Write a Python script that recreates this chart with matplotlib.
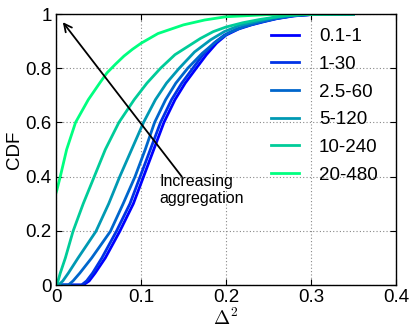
import numpy as np
import matplotlib
matplotlib.use("Agg")
import matplotlib.pyplot as plt

labels = ["0.1-1", "1-30", "2.5-60", "5-120", "10-240", "20-480"]

x_01_1 = [0, 0.032, 0.039, 0.046, 0.058, 0.075, 0.091, 0.103, 0.115, 0.127, 0.14, 0.152, 0.165, 0.177, 0.189, 0.2, 0.215, 0.23, 0.245, 0.26, 0.28, 0.3, 0.35]
y_01_1 = [0, 0, 0.015, 0.044, 0.10, 0.198, 0.30, 0.40, 0.50, 0.60, 0.684, 0.745, 0.80, 0.85, 0.893, 0.922, 0.945, 0.96, 0.972, 0.983, 0.993, 0.998, 1.0]

x_1_30 = [0, 0.030, 0.036, 0.043, 0.054, 0.071, 0.087, 0.099, 0.111, 0.123, 0.136, 0.148, 0.161, 0.173, 0.186, 0.198, 0.213, 0.228, 0.243, 0.258, 0.278, 0.3, 0.35]
y_1_30 = [0, 0, 0.015, 0.044, 0.10, 0.198, 0.30, 0.40, 0.50, 0.60, 0.684, 0.745, 0.80, 0.85, 0.893, 0.922, 0.945, 0.96, 0.972, 0.983, 0.993, 0.998, 1.0]

x_25_60 = [0, 0.0145, 0.02, 0.028, 0.042, 0.064, 0.079, 0.093, 0.105, 0.116, 0.129, 0.141, 0.155, 0.172, 0.189, 0.203, 0.22, 0.24, 0.26, 0.28, 0.3, 0.35]
y_25_60 = [0, 0, 0.015, 0.044, 0.10, 0.198, 0.30, 0.40, 0.50, 0.60, 0.684, 0.745, 0.80, 0.855, 0.90, 0.93, 0.952, 0.97, 0.984, 0.994, 0.998, 1.0]

x_5_120 = [0, 0.003, 0.008, 0.0145, 0.026, 0.047, 0.062, 0.075, 0.089, 0.103, 0.117, 0.13, 0.145, 0.163, 0.182, 0.198, 0.216, 0.235, 0.255, 0.275, 0.3, 0.35]
y_5_120 = [0, 0, 0.015, 0.044, 0.10, 0.198, 0.30, 0.40, 0.50, 0.60, 0.684, 0.745, 0.80, 0.86, 0.905, 0.935, 0.958, 0.972, 0.986, 0.995, 0.999, 1.0]

x_10_240 = [0, 0.001, 0.005, 0.011, 0.020, 0.032, 0.045, 0.058, 0.074, 0.092, 0.107, 0.123, 0.14, 0.155, 0.17, 0.185, 0.2, 0.22, 0.24, 0.265, 0.29, 0.35]
y_10_240 = [0, 0, 0.044, 0.10, 0.198, 0.30, 0.40, 0.50, 0.60, 0.684, 0.745, 0.80, 0.85, 0.88, 0.91, 0.935, 0.952, 0.968, 0.98, 0.992, 0.998, 1.0]

x_20_480 = [0, 0.001, 0.005, 0.0125, 0.023, 0.038, 0.052, 0.06, 0.07, 0.08, 0.09, 0.1, 0.12, 0.15, 0.175, 0.2, 0.25, 0.3, 0.35]
y_20_480 = [0.34, 0.35, 0.40, 0.50, 0.60, 0.684, 0.748, 0.783, 0.815, 0.845, 0.87, 0.892, 0.928, 0.96, 0.978, 0.99, 0.998, 1.0, 1.0]

series_x = [x_01_1, x_1_30, x_25_60, x_5_120, x_10_240, x_20_480]
series_y = [y_01_1, y_1_30, y_25_60, y_5_120, y_10_240, y_20_480]

xticks = [0, 0.1, 0.2, 0.3, 0.4]
xticklabels = ["0", "0.1", "0.2", "0.3", "0.4"]
yticks = [0, 0.2, 0.4, 0.6, 0.8, 1.0]
yticklabels = ["0", "0.2", "0.4", "0.6", "0.8", "1"]

plt.rcParams['font.family'] = ['Liberation Sans', 'DejaVu Sans']
plt.rcParams['mathtext.fontset'] = 'cm'

fig = plt.figure(figsize=(4.15, 3.34), dpi=100)
ax = fig.add_axes([0.135, 0.1467, 0.819, 0.8113])

cmap = plt.get_cmap('winter')
cols = [cmap(i / 5) for i in range(6)]
for xs, ys, lab, c in zip(series_x, series_y, labels, cols):
    ax.plot(xs, ys, color=c, lw=2.0, label=lab, solid_joinstyle='round')

ax.set_xlim(0, 0.4)
ax.set_ylim(0, 1)
ax.set_xticks(xticks)
ax.set_xticklabels(xticklabels)
ax.set_yticks(yticks)
ax.set_yticklabels(yticklabels)
ax.tick_params(direction='in', labelsize=13.5, top=True, right=True, length=4, pad=3, width=0.8)
ax.grid(True, linestyle=(0, (1, 2)), color='#888888', lw=0.8)
for s in ax.spines.values():
    s.set_linewidth(1.0)

ax.set_ylabel("CDF", fontsize=13.5, labelpad=2)
ax.set_xlabel(r"$\Delta^2$", fontsize=14, labelpad=1)

ax.annotate("", xy=(0.008, 0.97), xytext=(0.148, 0.40),
            arrowprops=dict(arrowstyle='->', color='black', lw=1.3, mutation_scale=14,
                            shrinkA=0, shrinkB=0))
ax.text(0.122, 0.352, "Increasing\naggregation", fontsize=11.5, ha='left', va='center',
        linespacing=1.15)

leg = ax.legend(frameon=False, loc='upper right', bbox_to_anchor=(0.968, 0.975),
                fontsize=13.5, handlelength=1.5, handletextpad=1.05, labelspacing=0.56,
                borderaxespad=0)

fig.savefig("out.png", dpi=100)
